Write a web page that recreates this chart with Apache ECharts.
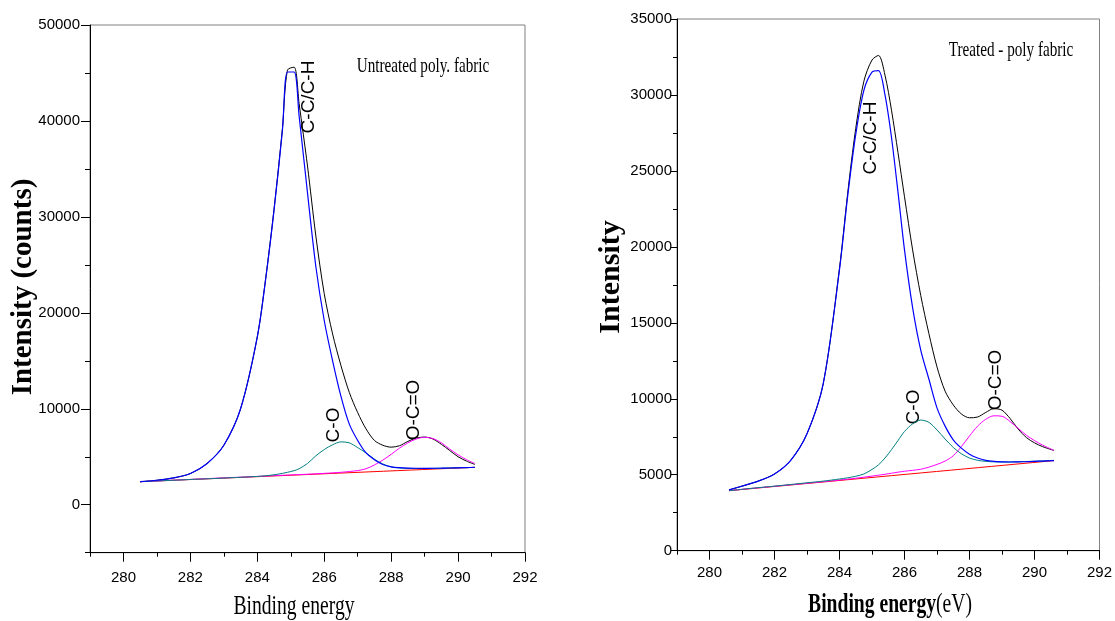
<!DOCTYPE html>
<html>
<head>
<meta charset="utf-8">
<title>XPS C1s</title>
<script src="https://cdn.jsdelivr.net/npm/echarts@6/dist/echarts.min.js"></script>
<style>
  html, body { margin: 0; padding: 0; background: #fff; }
  #chart { width: 1115px; height: 621px; }
</style>
</head>
<body>
<div id="chart"></div>
<script>
// x ticks / labels
const xTicks = [280, 282, 284, 286, 288, 290, 292];
const yTicksLeft = [0, 10000, 20000, 30000, 40000, 50000];

// untreated (left) - binding energy points
const energyLeft = [280.5, 281, 281.5, 282, 282.5, 283, 283.5, 284, 284.25, 284.5, 284.75, 284.9, 285.1, 285.25, 285.5, 285.75, 286, 286.25, 286.5, 286.75, 287, 287.25, 287.5, 287.75, 288, 288.25, 288.5, 288.75, 289, 289.25, 289.5, 289.75, 290, 290.25, 290.5];
const envelopeLeft = [2400, 2550, 2800, 3250, 4300, 6200, 10000, 17500, 23600, 30800, 39200, 45300, 45600, 41800, 35300, 28000, 22000, 17800, 14500, 11700, 9600, 7900, 6700, 6200, 6000, 6150, 6600, 6950, 7050, 6850, 6300, 5650, 5000, 4550, 4200];
const ccLeft = [2400, 2550, 2800, 3250, 4300, 6200, 10000, 17500, 23500, 30700, 39000, 45100, 45100, 40500, 32500, 24800, 19200, 15000, 11300, 8400, 6700, 5400, 4700, 4200, 3950, 3860, 3820, 3800, 3790, 3800, 3810, 3830, 3850, 3870, 3890];
const coLeft = [2400, 2480, 2550, 2630, 2700, 2780, 2860, 2950, 3020, 3120, 3270, 3380, 3550, 3750, 4300, 5100, 5750, 6250, 6550, 6450, 5950, 5400, 4750, 4250, 3950, 3830, 3780, 3770, 3780, 3790, 3810, 3830, 3850, 3870, 3890];
const occoLeft = [2400, 2480, 2560, 2640, 2720, 2800, 2870, 2950, 2990, 3030, 3070, 3090, 3120, 3140, 3180, 3220, 3270, 3320, 3380, 3460, 3560, 3750, 4150, 4650, 5250, 5900, 6450, 6850, 7030, 6900, 6450, 5800, 5200, 4700, 4300];
const bgEnergyLeft = [280.5, 290.5];
const bgLeft = [2400, 3900];

// treated (right)
const energyRight = [280.6, 281, 281.5, 282, 282.5, 283, 283.5, 284, 284.25, 284.5, 284.75, 285, 285.2, 285.4, 285.6, 285.8, 286, 286.25, 286.5, 286.75, 287, 287.25, 287.5, 287.75, 288, 288.25, 288.5, 288.75, 289, 289.25, 289.5, 289.75, 290, 290.25, 290.6];
const envelopeRight = [4000, 4250, 4580, 5050, 5950, 7700, 11000, 18600, 23500, 27800, 30900, 32300, 32600, 31300, 29000, 26200, 23300, 19800, 16800, 14300, 12100, 10500, 9600, 9000, 8750, 8800, 9100, 9350, 9250, 8700, 8000, 7450, 7100, 6850, 6600];
const ccRight = [4000, 4250, 4580, 5050, 5950, 7700, 11000, 18500, 23300, 27400, 30300, 31500, 31600, 30000, 27200, 23600, 19800, 16000, 13200, 11300, 9400, 8200, 7300, 6750, 6350, 6100, 5950, 5880, 5850, 5840, 5850, 5860, 5880, 5900, 5930];
const coRight = [3950, 4040, 4150, 4250, 4360, 4470, 4580, 4720, 4800, 4900, 5050, 5350, 5650, 6100, 6650, 7250, 7850, 8350, 8600, 8450, 7950, 7350, 6800, 6380, 6100, 5950, 5880, 5850, 5840, 5840, 5850, 5870, 5890, 5910, 5950];
const occoRight = [3950, 4040, 4140, 4240, 4340, 4440, 4540, 4650, 4710, 4770, 4840, 4910, 4970, 5030, 5100, 5170, 5230, 5290, 5360, 5500, 5680, 5900, 6250, 6850, 7550, 8200, 8650, 8880, 8850, 8500, 8050, 7600, 7250, 6950, 6600];
const bgEnergyRight = [280.6, 290.6];
const bgRight = [3950, 5930];

const tickFont = "'Liberation Sans', Arial, sans-serif";
const serif = "'Liberation Serif', 'Times New Roman', serif";
const sans = "'Liberation Sans', Arial, sans-serif";

function pairs(xs, ys) {
  return xs.map((x, i) => [x, ys[i]]);
}

function line(name, xs, ys, color, xi, yi, width) {
  return {
    name: name,
    type: 'line',
    xAxisIndex: xi,
    yAxisIndex: yi,
    data: pairs(xs, ys),
    showSymbol: false,
    smooth: 0.3,
    lineStyle: { color: color, width: width || 1 },
    itemStyle: { color: color },
    z: 3
  };
}

function mainX(grid, labelMargin) {
  return {
    type: 'value', gridIndex: grid, min: 279, max: 292, interval: 1,
    axisLine: { show: true, onZero: false, lineStyle: { color: '#000', width: 1 } },
    axisTick: { show: true, length: 9, customValues: xTicks, lineStyle: { color: '#000' } },
    axisLabel: { customValues: xTicks, margin: labelMargin, color: '#000', fontSize: 15, fontFamily: tickFont,
      formatter: v => String(v) },
    splitLine: { show: false }
  };
}
function minorX(grid) {
  return {
    type: 'value', gridIndex: grid, min: 279, max: 292, interval: 1, position: 'bottom',
    axisLine: { show: false, onZero: false },
    axisTick: { show: true, length: 4, lineStyle: { color: '#000' } },
    axisLabel: { show: false },
    splitLine: { show: false }
  };
}

function rotText(txt, x, y) {
  return {
    type: 'text', x: x, y: y, rotation: Math.PI / 2,
    style: { text: txt, font: '19px ' + sans, fill: '#000', align: 'center', verticalAlign: 'middle',
      textAlign: 'center', textVerticalAlign: 'middle' }
  };
}
function flatText(txt, x, y, font, sx) {
  return {
    type: 'text', x: x, y: y, scaleX: sx || 1,
    style: { text: txt, font: font, fill: '#000', align: 'center', verticalAlign: 'middle',
      textAlign: 'center', textVerticalAlign: 'middle' }
  };
}

const chart = echarts.init(document.getElementById('chart'));
chart.setOption({
  animation: false,
  backgroundColor: '#fff',
  grid: [
    { left: 90, top: 25, width: 435, height: 527.7, show: true, borderColor: '#808080', borderWidth: 1, backgroundColor: 'transparent' },
    { left: 677, top: 19, width: 423, height: 531.7, show: true, borderColor: '#808080', borderWidth: 1, backgroundColor: 'transparent' }
  ],
  xAxis: [mainX(0, 18), minorX(0), mainX(1, 15), minorX(1)],
  yAxis: [
    {
      type: 'value', gridIndex: 0, min: -5000, max: 50000, interval: 5000,
      axisLine: { show: true, onZero: false, lineStyle: { color: '#000' } },
      axisTick: { show: true, length: 9, customValues: yTicksLeft, lineStyle: { color: '#000' } },
      axisLabel: { customValues: yTicksLeft, margin: 10, color: '#000', fontSize: 15, fontFamily: tickFont,
        formatter: v => String(v) },
      splitLine: { show: false }
    },
    {
      type: 'value', gridIndex: 1, min: 0, max: 35000, interval: 5000,
      axisLine: { show: true, onZero: false, lineStyle: { color: '#000' } },
      axisTick: { show: true, length: 6, lineStyle: { color: '#000' } },
      minorTick: { show: true, splitNumber: 2, length: 4, lineStyle: { color: '#000' } },
      axisLabel: { margin: 5, color: '#000', fontSize: 15, fontFamily: tickFont, formatter: v => String(v) },
      splitLine: { show: false }
    },
    {
      type: 'value', gridIndex: 0, min: -5000, max: 50000, interval: 5000, position: 'left',
      axisLine: { show: false, onZero: false },
      axisTick: { show: true, length: 5, lineStyle: { color: '#000' } },
      axisLabel: { show: false },
      splitLine: { show: false }
    }
  ],
  series: [
    line('Envelope', energyLeft, envelopeLeft, '#000000', 0, 0),
    line('Background', bgEnergyLeft, bgLeft, '#ff0000', 0, 0),
    line('O-C=O', energyLeft, occoLeft, '#ff00ff', 0, 0),
    line('C-O', energyLeft, coLeft, '#008080', 0, 0),
    line('C-C/C-H', energyLeft, ccLeft, '#0000ff', 0, 0, 1.2),

    line('Envelope', energyRight, envelopeRight, '#000000', 2, 1),
    line('Background', bgEnergyRight, bgRight, '#ff0000', 2, 1),
    line('O-C=O', energyRight, occoRight, '#ff00ff', 2, 1),
    line('C-O', energyRight, coRight, '#008080', 2, 1),
    line('C-C/C-H', energyRight, ccRight, '#0000ff', 2, 1, 1.2)
  ],
  graphic: [
    // axis titles
    { type: 'text', x: 24, y: 287, rotation: Math.PI / 2,
      style: { text: 'Intensity (counts)', font: 'bold 29px ' + serif, fill: '#000', align: 'center', verticalAlign: 'middle', textAlign: 'center', textVerticalAlign: 'middle' } },
    { type: 'text', x: 611, y: 277, rotation: Math.PI / 2,
      style: { text: 'Intensity', font: 'bold 30px ' + serif, fill: '#000', align: 'center', verticalAlign: 'middle', textAlign: 'center', textVerticalAlign: 'middle' } },
    flatText('Binding energy', 294, 607, '28px ' + serif, 0.7),
    {
      type: 'text', x: 890, y: 605, scaleX: 0.7,
      style: {
        text: '{b|Binding energy}{n|(eV)}', fill: '#000', align: 'center', verticalAlign: 'middle',
        textAlign: 'center', textVerticalAlign: 'middle',
        rich: {
          b: { font: 'bold 28px ' + serif, fill: '#000' },
          n: { font: '28px ' + serif, fill: '#000' }
        }
      }
    },
    // sample names
    flatText('Untreated poly. fabric', 423, 66, '22px ' + serif, 0.69),
    flatText('Treated - poly fabric', 1011, 50, '22px ' + serif, 0.69),
    // peak labels
    rotText('C-C/C-H', 309, 97),
    rotText('C-O', 334, 425),
    rotText('O-C=O', 414, 410),
    rotText('C-C/C-H', 871, 138),
    rotText('C-O', 914, 407),
    rotText('O-C=O', 996, 380)
  ]
});
</script>
</body>
</html>
